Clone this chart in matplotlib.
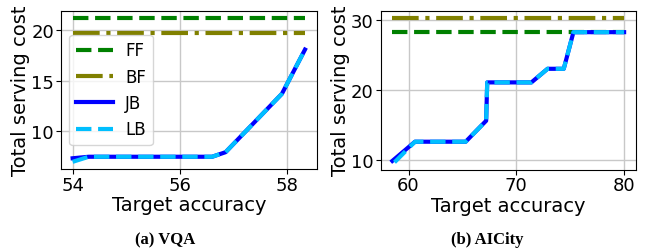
import matplotlib.pyplot as plt

# VQA panel
vqa_ff = 21.15
vqa_bf = 19.7
vqa_x = [54.0, 54.3, 56.6, 56.85, 57.9, 58.33]
vqa_jb = [7.35, 7.5, 7.5, 7.95, 13.7, 18.05]
vqa_lb_x = [54.0, 54.3, 56.6, 56.85, 57.9, 58.33]
vqa_lb = [7.0, 7.5, 7.5, 7.95, 13.7, 18.05]

# AICity panel
aic_ff = 28.3
aic_bf = 30.35
aic_x = [58.5, 60.6, 65.3, 67.2, 67.3, 71.4, 72.9, 74.4, 75.3, 80.0]
aic_jb = [9.85, 12.6, 12.6, 15.6, 21.1, 21.1, 23.05, 23.05, 28.3, 28.3]
aic_lb_x = [58.7, 60.6, 65.3, 67.2, 67.3, 71.4, 72.9, 74.4, 75.3, 80.0]
aic_lb = [9.65, 12.6, 12.6, 15.6, 21.1, 21.1, 23.05, 23.05, 28.3, 28.3]

plt.rcParams['font.family'] = 'DejaVu Sans'

fig = plt.figure(figsize=(6.52, 2.53), dpi=100)
ax1 = fig.add_axes([0.0936, 0.328, 0.392, 0.625])
ax2 = fig.add_axes([0.584, 0.326, 0.391, 0.628])

lw = 3


def draw(ax, x, jb, lb_x, lb, ff, bf):
    xs = [min(x[0], lb_x[0]), max(x[-1], lb_x[-1])]
    ax.plot(xs, [ff, ff], color='green', linestyle='--', linewidth=lw, label='FF')
    ax.plot(xs, [bf, bf], color='olive', linestyle='-.', linewidth=lw, label='BF')
    ax.plot(x, jb, color='blue', linestyle='-', linewidth=lw, label='JB')
    ax.plot(lb_x, lb, color='deepskyblue', linestyle='--', linewidth=lw, label='LB')
    ax.grid(True, color='#c8c8c8', linewidth=1)
    ax.set_axisbelow(True)
    ax.tick_params(labelsize=13, pad=1.5)
    ax.set_xlabel('Target accuracy', fontsize=14, labelpad=1)
    ax.set_ylabel('Total serving cost', fontsize=14, labelpad=1)


draw(ax1, vqa_x, vqa_jb, vqa_lb_x, vqa_lb, vqa_ff, vqa_bf)
ax1.set_xticks([54, 56, 58])
ax1.set_yticks([10, 15, 20])
ax1.legend(loc='center left', fontsize=12, handlelength=2.2, handletextpad=0.75)

draw(ax2, aic_x, aic_jb, aic_lb_x, aic_lb, aic_ff, aic_bf)
ax2.set_xticks([60, 70, 80])
ax2.set_yticks([10, 20, 30])

fig.text(0.253, 0.051, '(a) VQA', ha='center', va='center', fontsize=12,
         fontweight='bold', family='Liberation Serif')
fig.text(0.747, 0.051, '(b) AICity', ha='center', va='center', fontsize=12,
         fontweight='bold', family='Liberation Serif')

fig.savefig('out.png', dpi=100)
